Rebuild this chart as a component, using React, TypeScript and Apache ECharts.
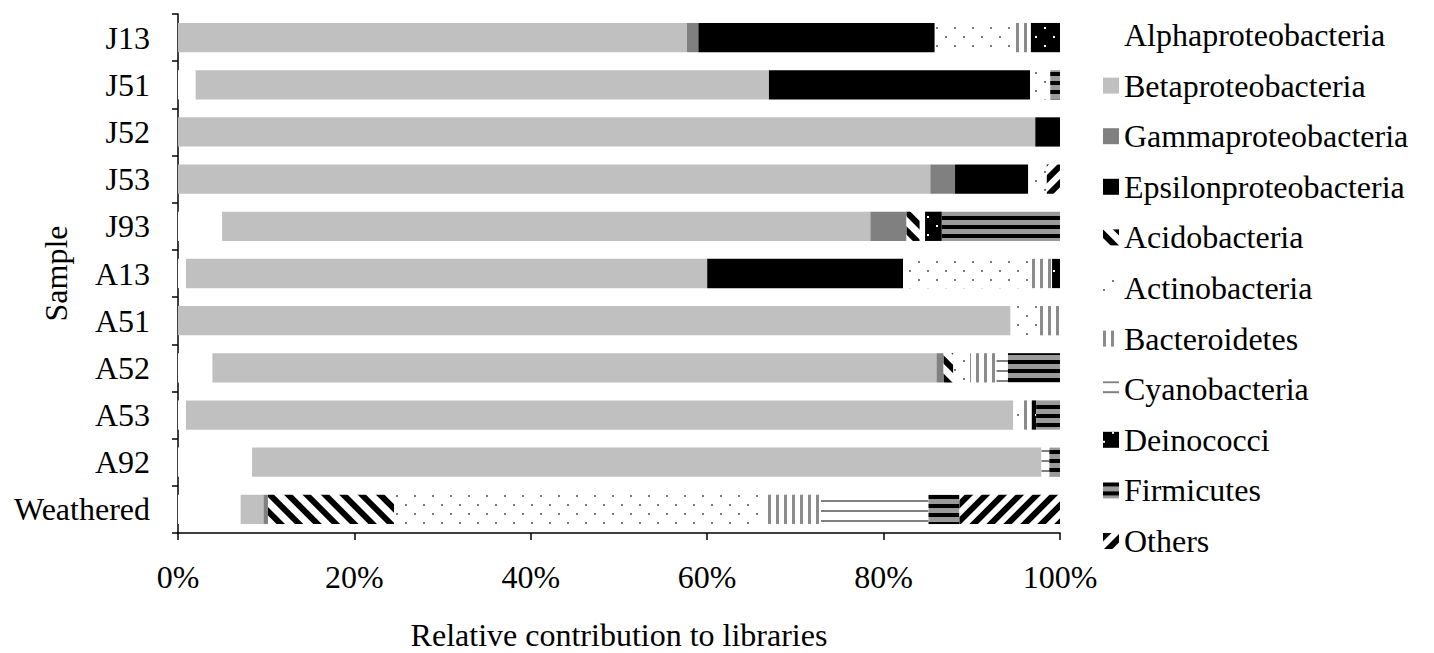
import React, { useEffect, useRef } from "react";
import * as echarts from "echarts";

const samples = ["J13", "J51", "J52", "J53", "J93", "A13", "A51", "A52", "A53", "A92", "Weathered"];
const xTicks = [0, 20, 40, 60, 80, 100];

const alpha = [0, 2.0, 0, 0, 5.0, 0.9, 0, 3.9, 0.9, 8.4, 7.1];
const beta = [57.7, 65.0, 97.2, 85.3, 73.5, 59.1, 94.4, 82.1, 93.8, 89.5, 2.6];
const gamma = [1.3, 0, 0, 2.8, 4.1, 0, 0, 0.8, 0, 0, 0.5];
const epsilon = [26.8, 29.6, 2.8, 8.3, 0, 22.2, 0, 0, 0, 0, 0];
const acido = [0, 0, 0, 0, 1.5, 0, 0, 1.1, 0, 0, 14.3];
const actino = [9.0, 2.3, 0, 2.1, 0.6, 14.6, 3.3, 1.9, 1.0, 0, 42.0];
const bacter = [1.9, 0, 0, 0, 0, 2.3, 2.3, 3.0, 1.1, 0, 6.4];
const cyano = [0, 0, 0, 0, 0, 0, 0, 1.3, 0, 0.9, 12.2];
const deino = [3.3, 0, 0, 0, 1.9, 0.9, 0, 0, 0.5, 0, 0];
const firm = [0, 1.1, 0, 0, 13.4, 0, 0, 5.9, 2.7, 1.2, 3.5];
const others = [0, 0, 0, 1.5, 0, 0, 0, 0, 0, 0, 11.4];

const seriesNames = [
  "Alphaproteobacteria",
  "Betaproteobacteria",
  "Gammaproteobacteria",
  "Epsilonproteobacteria",
  "Acidobacteria",
  "Actinobacteria",
  "Bacteroidetes",
  "Cyanobacteria",
  "Deinococci",
  "Firmicutes",
  "Others",
];
const seriesData = [alpha, beta, gamma, epsilon, acido, actino, bacter, cyano, deino, firm, others];

const FONT = "Liberation Serif";
const FS = 32;

const dotsX = [[1.6, 15.1], [0, 8.35, 1.6, 6.75]];

const styles: any[] = [
  { color: "#ffffff" },
  { color: "#c0c0c0" },
  { color: "#808080" },
  { color: "#000000" },
  {
    color: "#ffffff",
    decal: { symbol: "rect", symbolSize: 1, color: "#000000", dashArrayX: [1, 0], dashArrayY: [5.5, 7], rotation: Math.PI / 4 },
  },
  {
    color: "#ffffff",
    decal: { symbol: "rect", symbolSize: 1, color: "#7a7a7a", dashArrayX: dotsX, dashArrayY: [1.6, 6.9] },
  },
  {
    color: "#ffffff",
    decal: { symbol: "rect", symbolSize: 1, color: "#8a8a8a", dashArrayX: [3, 5], dashArrayY: [1, 0] },
  },
  {
    color: "#ffffff",
    decal: { symbol: "rect", symbolSize: 1, color: "#808080", dashArrayX: [1, 0], dashArrayY: [1.5, 7.7] },
  },
  {
    color: "#000000",
    decal: { symbol: "rect", symbolSize: 1, color: "#ffffff", dashArrayX: dotsX, dashArrayY: [1.6, 6.9] },
  },
  {
    color: "#9a9a9a",
    decal: { symbol: "rect", symbolSize: 1, color: "#000000", dashArrayX: [1, 0], dashArrayY: [4, 4.5] },
  },
  {
    color: "#ffffff",
    decal: { symbol: "rect", symbolSize: 1, color: "#000000", dashArrayX: [1, 0], dashArrayY: [6, 6], rotation: -Math.PI / 4 },
  },
];

export default function App() {
  const ref = useRef<HTMLDivElement>(null);
  useEffect(() => {
    if (!ref.current) return;
    const chart = echarts.init(ref.current, undefined, { renderer: "svg" });
    const option: any = {
      animation: false,
      backgroundColor: "#ffffff",
      textStyle: { fontFamily: FONT },
      grid: { left: 178, right: 374, top: 14, bottom: 120, containLabel: false, outerBoundsMode: "none" },
      legend: {
        orient: "vertical",
        left: 1098,
        top: 14,
        itemWidth: 16,
        itemHeight: 16,
        itemGap: 18.6,
        icon: "rect",
        data: seriesNames,
        textStyle: { fontFamily: FONT, fontSize: FS, color: "#000", lineHeight: 32 },
        selectedMode: false,
      },
      xAxis: {
        type: "value",
        min: xTicks[0],
        max: xTicks[xTicks.length - 1],
        interval: 20,
        axisLine: { show: true, lineStyle: { color: "#000", width: 1.5 } },
        axisTick: { show: true, length: 7, lineStyle: { color: "#000", width: 1.5 } },
        splitLine: { show: false },
        axisLabel: { formatter: "{value}%", fontFamily: FONT, fontSize: FS, color: "#000", margin: 28 },
        name: "Relative contribution to libraries",
        nameLocation: "middle",
        nameGap: 86,
        nameMoveOverlap: false,
        nameTextStyle: { fontFamily: FONT, fontSize: FS, color: "#000" },
      },
      yAxis: {
        type: "category",
        inverse: true,
        data: samples,
        axisLine: { show: true, lineStyle: { color: "#000", width: 1.5 } },
        axisTick: { show: true, length: 6, lineStyle: { color: "#000", width: 1.5 } },
        axisLabel: { fontFamily: FONT, fontSize: FS, color: "#000", margin: 28 },
        name: "Sample",
        nameLocation: "middle",
        nameGap: 106,
        nameRotate: 90,
        nameMoveOverlap: false,
        nameTextStyle: { fontFamily: FONT, fontSize: FS, color: "#000" },
      },
      series: seriesNames.map((name, i) => ({
        name,
        type: "bar",
        stack: "total",
        barCategoryGap: "38%",
        data: seriesData[i],
        itemStyle: styles[i],
        emphasis: { disabled: true },
      })),
    };
    chart.setOption(option);
    return () => chart.dispose();
  }, []);
  return <div ref={ref} style={{ position: "fixed", left: 0, top: 0, width: 1434, height: 653 }} />;
}
